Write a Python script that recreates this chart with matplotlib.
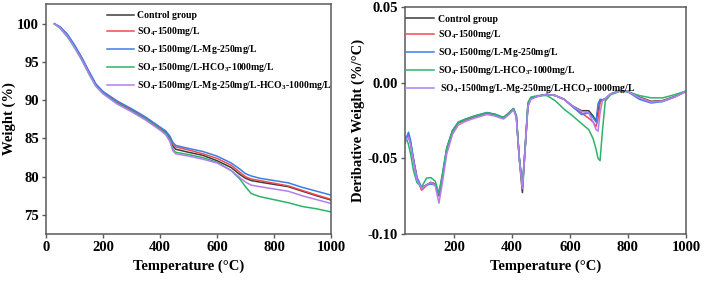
import matplotlib
matplotlib.use("Agg")
import matplotlib.pyplot as plt

plt.rcParams['font.family'] = ['Liberation Serif', 'DejaVu Serif']
plt.rcParams['font.weight'] = 'bold'
plt.rcParams['mathtext.fontset'] = 'custom'
plt.rcParams['mathtext.rm'] = 'Liberation Serif:bold'
plt.rcParams['mathtext.bf'] = 'Liberation Serif:bold'
plt.rcParams['mathtext.it'] = 'Liberation Serif:bold'

labels = ["Control group",
          r"SO$_\mathrm{4}$-1500mg/L",
          r"SO$_\mathrm{4}$-1500mg/L-Mg-250mg/L",
          r"SO$_\mathrm{4}$-1500mg/L-HCO$_\mathrm{3}$-1000mg/L",
          r"SO$_\mathrm{4}$-1500mg/L-Mg-250mg/L-HCO$_\mathrm{3}$-1000mg/L"]
labels_right = labels[:4] + [" " + labels[4]]
colors = ["#3c3c3c", "#f04c4c", "#3a7ee8", "#2db36a", "#b37ff0"]

# ---- TG data ----
tg_temp = [30, 50, 75, 100, 125, 150, 175, 200, 250, 300, 350, 400, 420, 435, 445,
           455, 500, 550, 600, 650, 680, 700, 720, 750, 800, 850, 900, 950, 1000]
tg_control = [100, 99.5, 98.5, 97.1, 95.5, 93.7, 92.0, 91.0, 89.7, 88.7, 87.6, 86.3, 85.8, 85.0, 84.0,
              83.6, 83.2, 82.8, 82.1, 81.2, 80.3, 79.8, 79.5, 79.3, 79.0, 78.7, 78.1, 77.5, 76.95]
tg_so4 = [100, 99.55, 98.55, 97.15, 95.55, 93.75, 92.05, 91.05, 89.8, 88.8, 87.7, 86.4, 85.9, 85.2, 84.3,
          83.9, 83.5, 83.0, 82.4, 81.5, 80.6, 80.0, 79.7, 79.5, 79.15, 78.8, 78.2, 77.6, 77.05]
tg_so4_mg = [100, 99.6, 98.65, 97.25, 95.65, 93.85, 92.15, 91.15, 89.9, 88.9, 87.8, 86.5, 86.0, 85.3, 84.5,
             84.1, 83.7, 83.3, 82.7, 81.8, 81.0, 80.4, 80.1, 79.8, 79.5, 79.2, 78.6, 78.1, 77.6]
tg_so4_hco3 = [100, 99.4, 98.3, 96.9, 95.3, 93.5, 91.85, 90.9, 89.6, 88.6, 87.5, 86.2, 85.6, 84.8, 83.6,
               83.2, 82.9, 82.5, 81.9, 80.8, 79.7, 78.7, 77.8, 77.4, 77.0, 76.6, 76.1, 75.8, 75.4]
tg_so4_mg_hco3 = [100, 99.45, 98.4, 96.95, 95.35, 93.55, 91.85, 90.85, 89.5, 88.5, 87.4, 86.1, 85.5, 84.6, 83.4,
                  83.0, 82.7, 82.3, 81.8, 80.8, 79.9, 79.3, 78.9, 78.7, 78.4, 78.1, 77.5, 77.0, 76.5]

# ---- DTG data ----
dtg_temp = [31, 38, 43, 50, 60, 72, 88, 105, 120, 135, 148, 160, 175, 195, 215, 240, 270, 313, 340, 371,
            390, 405, 415, 425, 436, 445, 455, 465, 490, 521, 550, 580, 610, 640, 665, 680, 690, 697, 704, 712,
            722, 740, 775, 800, 840, 880, 920, 960, 1000]
dtg_control = [-0.038, -0.036, -0.0353, -0.040, -0.051, -0.063, -0.0704, -0.0675, -0.0658, -0.067,
               -0.0748, -0.062, -0.044, -0.032, -0.0265, -0.0245, -0.0225, -0.020, -0.021, -0.0232,
               -0.020, -0.0173, -0.022, -0.050, -0.0726, -0.045, -0.015, -0.0105, -0.0088, -0.0077,
               -0.0085, -0.011, -0.0155, -0.0185, -0.0185, -0.022, -0.0254, -0.018, -0.0123, -0.0115,
               -0.0107, -0.0075, -0.0051, -0.0058, -0.0095, -0.0123, -0.0118, -0.0092, -0.0057]
dtg_so4 = [-0.038, -0.0355, -0.035, -0.040, -0.051, -0.063, -0.0710, -0.068, -0.066, -0.067,
           -0.0745, -0.062, -0.044, -0.032, -0.0265, -0.0245, -0.0225, -0.020, -0.021, -0.0232,
           -0.020, -0.0173, -0.022, -0.049, -0.069, -0.044, -0.015, -0.0105, -0.0088, -0.0077,
           -0.0085, -0.011, -0.016, -0.020, -0.0235, -0.026, -0.029, -0.024, -0.013, -0.0115,
           -0.0107, -0.0075, -0.0051, -0.0058, -0.0098, -0.0126, -0.012, -0.0094, -0.0058]
dtg_so4_mg = [-0.040, -0.035, -0.0327, -0.038, -0.050, -0.0625, -0.069, -0.0675, -0.067, -0.0675,
              -0.0735, -0.061, -0.043, -0.0315, -0.026, -0.024, -0.022, -0.0197, -0.0207, -0.023,
              -0.0198, -0.017, -0.022, -0.049, -0.068, -0.044, -0.015, -0.0105, -0.0088, -0.0077,
              -0.0085, -0.011, -0.016, -0.021, -0.020, -0.023, -0.026, -0.014, -0.011, -0.0112,
              -0.0107, -0.0075, -0.0051, -0.006, -0.011, -0.0134, -0.0125, -0.0096, -0.0059]
dtg_so4_hco3 = [-0.036, -0.038, -0.041, -0.047, -0.058, -0.066, -0.069, -0.063, -0.0627, -0.065,
                -0.073, -0.060, -0.043, -0.0315, -0.026, -0.024, -0.022, -0.0198, -0.0208, -0.023,
                -0.0198, -0.017, -0.022, -0.049, -0.068, -0.044, -0.013, -0.0095, -0.0085, -0.0085,
                -0.012, -0.0175, -0.022, -0.027, -0.031, -0.037, -0.044, -0.050, -0.0515, -0.032,
                -0.012, -0.008, -0.0055, -0.006, -0.0085, -0.0100, -0.0100, -0.008, -0.0055]
dtg_so4_mg_hco3 = [-0.038, -0.0365, -0.036, -0.041, -0.052, -0.064, -0.070, -0.0675, -0.066, -0.068,
                   -0.0796, -0.066, -0.047, -0.034, -0.028, -0.0255, -0.0235, -0.021, -0.022, -0.024,
                   -0.021, -0.018, -0.023, -0.050, -0.070, -0.046, -0.016, -0.011, -0.009, -0.0078,
                   -0.0085, -0.011, -0.0155, -0.019, -0.020, -0.026, -0.031, -0.032, -0.020, -0.012,
                   -0.0105, -0.0075, -0.0051, -0.0058, -0.010, -0.0128, -0.0122, -0.0095, -0.0058]

tg_series = [tg_control, tg_so4, tg_so4_mg, tg_so4_hco3, tg_so4_mg_hco3]
dtg_series = [dtg_control, dtg_so4, dtg_so4_mg, dtg_so4_hco3, dtg_so4_mg_hco3]

x_ticks = [0, 200, 400, 600, 800, 1000]
x_ticks_right = [200, 400, 600, 800, 1000]
tg_ticks = [75, 80, 85, 90, 95, 100]
dtg_ticks = [-0.10, -0.05, 0.00, 0.05]
dtg_ticklabels = ["-0.10", "-0.05", "0.00", "0.05"]

fig = plt.figure(figsize=(7.02, 2.82), dpi=100)
ax1 = fig.add_axes([0.0655, 0.170, 0.406, 0.816])
ax2 = fig.add_axes([0.577, 0.170, 0.400, 0.805])

fs_tick = 10.5
fs_label = 10.5
fs_leg = 7.05
leg_prop = {'family': 'Liberation Serif', 'weight': 'bold', 'size': fs_leg}

for ax in (ax1, ax2):
    for sp in ax.spines.values():
        sp.set_color("#5a5a5a")
        sp.set_linewidth(1.1)
    ax.tick_params(direction='out', length=3, width=1, color="#5a5a5a", labelsize=fs_tick, pad=2)

for ys, c, lab in zip(tg_series, colors, labels):
    ax1.plot(tg_temp, ys, color=c, lw=1.1, label=lab)
ax1.set_xlim(0, 1000)
ax1.set_ylim(72.5, 102.6)
ax1.set_xticks(x_ticks)
ax1.set_yticks(tg_ticks)
ax1.set_xlabel("Temperature (°C)", fontsize=fs_label, fontweight='bold', labelpad=4)
ax1.set_ylabel("Weight (%)", fontsize=fs_label, fontweight='bold', labelpad=1)
ax1.legend(loc='upper left', bbox_to_anchor=(0.19, 0.997), frameon=False, prop=leg_prop,
           handlelength=2.8, handletextpad=0.3, labelspacing=0.5, borderpad=0.2)

for ys, c, lab in zip(dtg_series, colors, labels_right):
    ax2.plot(dtg_temp, ys, color=c, lw=1.1, label=lab)
ax2.set_xlim(31, 1000)
ax2.set_ylim(-0.10, 0.05)
ax2.set_xticks(x_ticks_right)
ax2.set_yticks(dtg_ticks)
ax2.set_yticklabels(dtg_ticklabels)
ax2.set_xlabel("Temperature (°C)", fontsize=fs_label, fontweight='bold', labelpad=4)
ax2.set_ylabel("Deribative Weight (%/°C)", fontsize=fs_label, fontweight='bold', labelpad=2)
ax2.legend(loc='upper left', bbox_to_anchor=(-0.02, 0.997), frameon=False, prop=leg_prop,
           handlelength=2.8, handletextpad=0.4, labelspacing=0.5, borderpad=0.2)

for ax in (ax1, ax2):
    for lab in ax.get_xticklabels() + ax.get_yticklabels():
        lab.set_fontweight('bold')

fig.savefig("out.png", dpi=100)
